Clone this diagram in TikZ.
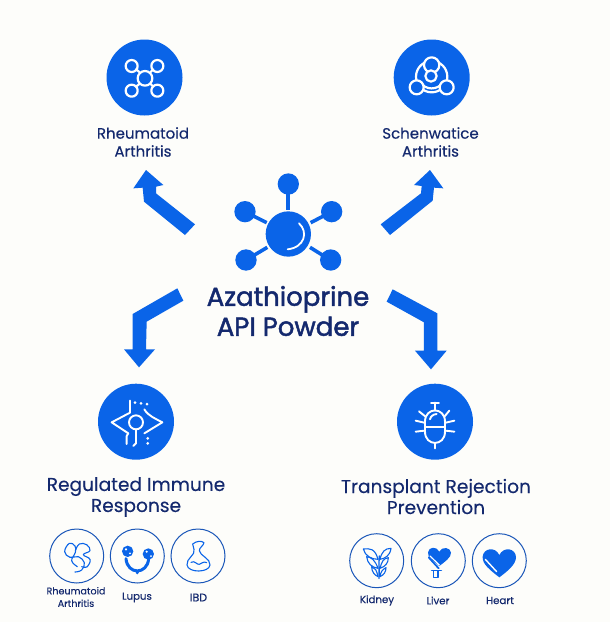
\documentclass[tikz,border=0pt]{standalone}
\usepackage{fontspec}
\setmainfont{Poppins}
\newfontfamily\titlefont[FakeBold=1.8]{Poppins}
\newfontfamily\midfont[FakeBold=0.2]{Poppins}
\definecolor{bluefill}{HTML}{0A64E8}
\definecolor{navy}{HTML}{14296E}
\definecolor{paper}{HTML}{FDFDFA}
\definecolor{ringblue}{HTML}{1A56B8}
\tikzset{
  zoomat/.style 2 args={x=0.33333pt,y=-0.33333pt,shift={(#1pt,-#2pt)}},
  disc/.style={circle,fill=bluefill,draw=none,inner sep=0pt,minimum size=76pt},
  ring/.style={circle,fill=none,draw=ringblue,line width=1pt,inner sep=0pt,minimum size=54pt},
  blockarrow/.style={fill=bluefill,draw=none},
  lab/.style={text=navy,align=center,inner sep=0pt},
  ico/.style={draw=white,line width=2.2pt,line cap=round,line join=round},
  thinico/.style={draw=white,line width=1.9pt,line cap=round,line join=round},
  mini/.style={draw=bluefill,line width=1.1pt,line cap=round,line join=round},
}
\begin{document}
\begin{tikzpicture}[x=1pt,y=-1pt]
\useasboundingbox (0,0) rectangle (610,622);
\fill[paper] (0,0) rectangle (610,622);

% discs
\node[disc] (ra) at (144.5,77.5) {};
\node[disc] (sa) at (431.7,77.5) {};
\node[disc] (im) at (136,421.7) {};
\node[disc] (tr) at (435,421.7) {};

% rings
\node[ring] (r1) at (76.7,556) {};
\node[ring] (r2) at (137.3,556) {};
\node[ring] (r3) at (198,556) {};
\node[ring] (r4) at (376.7,560.7) {};
\node[ring] (r5) at (438.3,560.7) {};
\node[ring] (r6) at (499.3,560.7) {};

% labels
\node[lab,font=\midfont\fontsize{15}{18}\selectfont] (t1) at (143,142) {Rheumatoid\\Arthritis};
\node[lab,font=\midfont\fontsize{15}{18}\selectfont] (t2) at (430.5,142) {Schenwatice\\Arthritis};
\node[lab,font=\titlefont\fontsize{26}{30}\selectfont] (t0) at (288,311) {Azathioprine\\API Powder};
\node[lab,font=\midfont\fontsize{18.6}{21}\selectfont] (t3) at (136,497) {Regulated Immune\\Response};
\node[lab,font=\midfont\fontsize{18.6}{21}\selectfont] (t4) at (436,496.5) {Transplant Rejection\\Prevention};
\node[lab,font=\midfont\fontsize{9.6}{12.5}\selectfont] (s1) at (76,597) {Rheumatoid\\Arthritis};
\node[lab,font=\midfont\fontsize{10.2}{12}\selectfont] (s2) at (137,597.5) {Lupus};
\node[lab,font=\midfont\fontsize{11}{12}\selectfont] (s3) at (198.5,597.5) {IBD};
\node[lab,font=\midfont\fontsize{10.2}{12}\selectfont] (s4) at (377,600.5) {Kidney};
\node[lab,font=\midfont\fontsize{10.2}{12}\selectfont] (s5) at (438,600.5) {Liver};
\node[lab,font=\midfont\fontsize{10.2}{12}\selectfont] (s6) at (500,600.5) {Heart};

% central molecule and block arrows
\begin{scope}[zoomat={120}{160}]
  \fill[bluefill] (505,222) circle (68);
  \foreach \px/\py in {505/72,375/155,635/155,378/300,632/300}
    \fill[bluefill] (\px,\py) circle (32);
  \draw[bluefill,line width=4pt] (505,90) -- (505,150);
  \draw[bluefill,line width=3.6pt] (390,163) -- (440,188);
  \draw[bluefill,line width=3.6pt] (620,163) -- (572,188);
  \draw[bluefill,line width=3.6pt] (395,290) -- (442,262);
  \draw[bluefill,line width=3.6pt] (615,290) -- (570,262);
  \draw[white,line width=1.8pt,line cap=round] (537,190) .. controls (565,215) and (555,262) .. (503,268);
  \fill[blockarrow] (78,30) -- (130,75) -- (108,80) -- (108,100) -- (225,193) -- (195,225) -- (72,125) -- (68,83) -- (40,85) -- cycle;
  \fill[blockarrow] (930,30) -- (970,85) -- (942,83) -- (938,122) -- (810,225) -- (782,193) -- (903,100) -- (905,78) -- (882,75) -- cycle;
  \fill[blockarrow] (172,385) -- (190,422) -- (80,485) -- (78,568) -- (105,568) -- (57,622) -- (12,568) -- (38,568) -- (38,462) -- cycle;
  \fill[blockarrow] (818,388) -- (800,425) -- (912,487) -- (912,572) -- (885,572) -- (933,628) -- (980,572) -- (952,572) -- (952,460) -- cycle;
\end{scope}

% icon: Rheumatoid Arthritis
\begin{scope}[zoomat={80}{30}]
  \draw[ico] (168,118) -- (178,126) (220,118) -- (212,126) (168,170) -- (178,162) (220,170) -- (212,162);
  \draw[ico] (195,145) circle (22);
  \foreach \px/\py in {155/108,232/108,155/182,232/182}
    \draw[ico] (\px,\py) circle (18);
\end{scope}

% icon: Schenwatice Arthritis
\begin{scope}[zoomat={370}{30}]
  \draw[ico] (185,140) circle (47);
  \draw[ico,fill=bluefill] (185,105) circle (23);
  \draw[ico,fill=bluefill] (183,138) circle (17);
  \draw[ico] (150,155) .. controls (165,182) and (205,182) .. (220,155);
  \draw[ico,fill=bluefill] (140,172) circle (21);
  \draw[ico,fill=bluefill] (230,172) circle (21);
\end{scope}

% icon: Regulated Immune Response
\begin{scope}[zoomat={85}{380}]
  \begin{scope}[every path/.style={thinico}]
  \draw (153,127) circle (21);
  \draw (135,62) -- (135,98) -- (80,127) -- (130,160) -- (125,168) -- (125,192);
  \draw (178,88) .. controls (190,108) and (210,115) .. (232,127) -- (178,160);
  \draw (153,148) -- (153,190) -- (145,198);
  \end{scope}
  \foreach \px/\py in {150/68,168/70,186/72,188/175,188/190}
    \fill[white] (\px,\py) circle (4.5);
\end{scope}

% icon: Transplant Rejection Prevention
\begin{scope}[zoomat={385}{380}]
  \begin{scope}[every path/.style={thinico}]
  \draw (120,125) .. controls (120,80) and (180,80) .. (180,125) -- (180,155) .. controls (180,200) and (120,200) .. (120,155) -- cycle;
  \draw (120,142) -- (180,142);
  \draw (135,118) .. controls (137,108) and (145,103) .. (155,102);
  \draw (150,92) -- (150,68) (138,68) -- (162,68) (150,190) -- (150,205);
  \draw (122,110) -- (102,94) (178,110) -- (193,92);
  \draw (118,128) -- (92,122) (182,128) -- (208,122);
  \draw (118,152) -- (92,155) (182,152) -- (208,155);
  \end{scope}
\end{scope}

% small icons, left
\begin{scope}[zoomat={40}{520}]
  \draw[mini] plot[smooth,tension=0.7] coordinates {(105,156) (125,150) (133,128) (115,110) (90,112) (74,95) (88,70) (105,78) (106,97) (95,122) (112,140)};
  \draw[mini] plot[smooth,tension=0.7] coordinates {(106,92) (118,72) (140,74) (150,92) (130,104) (150,118) (142,140) (125,140)};
  \draw[bluefill,line width=3pt,line cap=round] (258,116) .. controls (262,165) and (322,165) .. (326,116);
  \fill[bluefill] (292,158) circle (5);
  \fill[bluefill] (263,94) circle (17);
  \fill[bluefill] (325,102) circle (17);
  \fill[white] (258,88) circle (3.5) (270,100) circle (3) (320,95) circle (3.5) (333,108) circle (3);
  \draw[mini] (458,72) .. controls (470,62) and (485,62) .. (492,68)
     .. controls (490,78) and (478,82) .. (478,92)
     .. controls (480,108) and (512,115) .. (510,135)
     .. controls (508,158) and (445,160) .. (441,135)
     .. controls (438,115) and (468,105) .. (462,88) -- cycle;
  \draw[mini] (453,127) .. controls (465,120) and (470,135) .. (478,133) .. controls (485,132) and (490,122) .. (500,128);
\end{scope}

% small icons, right
\begin{scope}[zoomat={340}{520}]
  \draw[bluefill,line width=1.4pt,line cap=round] (117,175) .. controls (118,150) and (116,125) .. (118,108);
  \draw[mini] (114,118) .. controls (105,85) and (90,85) .. (70,87) .. controls (75,108) and (95,118) .. (114,118);
  \draw[mini] (120,118) .. controls (125,95) and (135,85) .. (153,85) .. controls (150,108) and (135,115) .. (120,118);
  \draw[mini] (114,145) .. controls (105,120) and (95,112) .. (80,110) .. controls (82,130) and (95,142) .. (114,145);
  \draw[mini] (120,145) .. controls (125,125) and (130,115) .. (145,113) .. controls (145,130) and (135,140) .. (120,145);
  \draw[mini] (114,170) .. controls (110,150) and (105,143) .. (95,140) .. controls (95,155) and (103,165) .. (114,170);
  \draw[mini] (120,170) .. controls (122,155) and (128,148) .. (138,143) .. controls (138,155) and (132,165) .. (120,170);
  % liver
  \fill[bluefill] (298,138) .. controls (280,122) and (262,112) .. (264,97) .. controls (266,80) and (290,78) .. (298,95) .. controls (306,78) and (332,82) .. (333,98) .. controls (334,112) and (315,125) .. (298,138) -- cycle;
  \draw[white,line width=1.2pt,line cap=round] (270,108) -- (298,135);
  \draw[bluefill,line width=1.8pt,line cap=round] (266,112) -- (296,145);
  \draw[mini,line width=1.4pt] (275,152) -- (304,152) (281,153) -- (281,172) -- (294,172) -- (294,153);
  % heart
  \fill[bluefill] (478,172) .. controls (450,150) and (426,132) .. (428,110) .. controls (430,85) and (465,78) .. (478,105) .. controls (491,78) and (528,85) .. (528,112) .. controls (528,132) and (505,152) .. (478,172) -- cycle;
  \draw[white,line width=1.4pt,line cap=round] (436,118) -- (470,155);
\end{scope}
\end{tikzpicture}
\end{document}
